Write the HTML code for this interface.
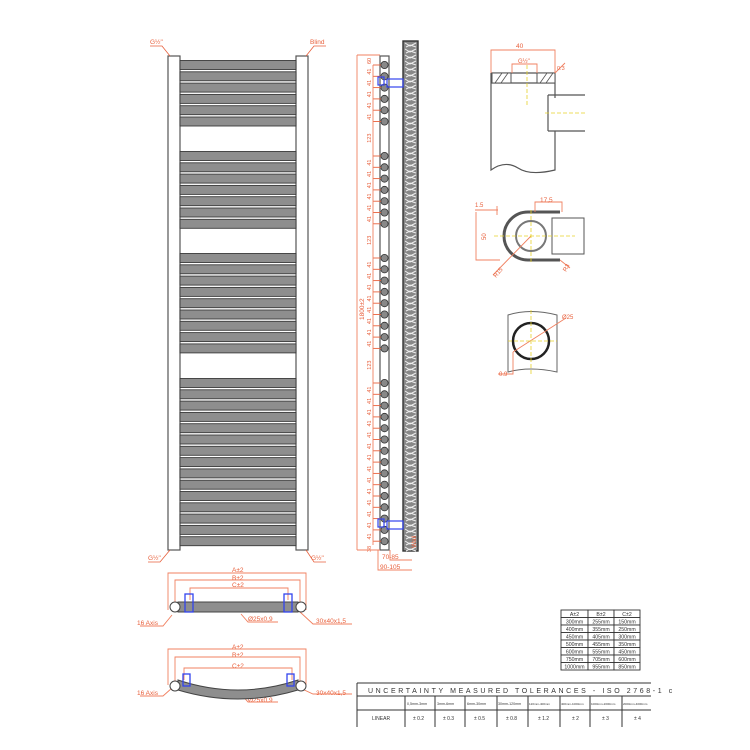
<!DOCTYPE html>
<html><head><meta charset="utf-8"><style>
html,body{margin:0;padding:0;background:#fff;width:750px;height:750px;overflow:hidden}
svg{display:block;font-family:"Liberation Sans",sans-serif}
</style></head><body>
<svg id="s" width="750" height="750" viewBox="0 0 750 750" xmlns="http://www.w3.org/2000/svg">
<rect x="168" y="56" width="12" height="494" fill="#fff" stroke="#555" stroke-width="1.2"/>
<rect x="296" y="56" width="12" height="494" fill="#fff" stroke="#555" stroke-width="1.2"/>
<g id="bars"></g>
<g fill="#e8603c" font-size="6.5" stroke="none">
<text x="150" y="44">G½"</text><text x="310" y="44">Blind</text>
<text x="148" y="560">G½"</text><text x="311" y="560">G½"</text>
</g>
<g stroke="#e8603c" stroke-width="0.8" fill="none">
<path d="M150 46 H162 L170 56"/><path d="M326 46 H314 L306 56"/>
<path d="M148 562 H160 L170 550"/><path d="M326 562 H314 L306 550"/>
</g>
<rect x="380" y="56" width="9" height="494" fill="#fff" stroke="#555" stroke-width="1.2"/>
<rect x="403" y="41" width="15" height="510" fill="#888" stroke="#333" stroke-width="1.4"/>
<g id="wall"></g>
<g id="side"></g>
<g stroke="#f08060" stroke-width="0.9" fill="none">
<path d="M357 55 V550 M357 55 H380 M357 550 H380"/>
<path d="M373 65 V545"/>
<path d="M378 550 V570 H412 M390 550 V560 H412"/>
</g>
<text x="0" y="0" transform="translate(364 320) rotate(-90)" fill="#e8603c" font-size="6.5">1800±2</text>
<text x="382" y="559" fill="#e8603c" font-size="6.5">70-85</text>
<text x="380" y="569" fill="#e8603c" font-size="6.5">90-105</text>
<text transform="translate(416 548) rotate(-90)" fill="#e8603c" font-size="6.5">Wall</text>
<rect x="378" y="77" width="6" height="8" fill="none" stroke="#3344ee" stroke-width="1.2"/>
<rect x="387" y="79" width="16" height="8" fill="none" stroke="#3344ee" stroke-width="1.2"/>
<rect x="378" y="519" width="6" height="8" fill="none" stroke="#3344ee" stroke-width="1.2"/>
<rect x="387" y="521" width="16" height="8" fill="none" stroke="#3344ee" stroke-width="1.2"/>
<g stroke="#555" stroke-width="1.2" fill="none">
<path d="M491 73 V170 Q505 160 518 168 Q530 176 555 170 V131 M555 98 V73 Z"/>
<path d="M491 73 H555 M491 83 H555"/>
<path d="M548 95 H585 M548 131 H585 M548 95 V131"/>
</g>
<rect x="492" y="73" width="19" height="10" fill="#fff" stroke="#555"/>
<rect x="537" y="73" width="18" height="10" fill="#fff" stroke="#555"/>
<g stroke="#555" stroke-width="0.8"><path d="M495 83 L502 73 M501 83 L508 73 M540 83 L547 73 M546 83 L553 73"/></g>
<g stroke="#f08060" stroke-width="0.9" fill="none"><path d="M491 73 V50 H555 V73 M512 73 V64 H537 V73 M555 73 L565 63"/></g>
<text x="516" y="48" fill="#e8603c" font-size="6.5">40</text>
<text x="518" y="63" fill="#e8603c" font-size="6">G½"</text>
<text x="557" y="70" fill="#e8603c" font-size="5.5">0.3</text>
<g stroke="#e6d22a" stroke-width="0.8" stroke-dasharray="4 2" fill="none"><path d="M527 65 V105 M545 113 H585"/></g>
<path d="M560 212 H528 A24 24 0 0 0 528 260 H560" fill="none" stroke="#555" stroke-width="3"/>
<circle cx="531" cy="236" r="15" fill="none" stroke="#777" stroke-width="2"/>
<path d="M552 218 H584 V254 H552 Z" fill="#fff" stroke="#555" stroke-width="1"/>
<g stroke="#f08060" stroke-width="0.9" fill="none">
<path d="M475 210 H498 M476 212 V260 H500 M497 206 V215 M535 212 V202 H562 V212 M531 236 L493 275 M560 260 L570 268"/>
</g>
<text x="475" y="207" fill="#e8603c" font-size="6">1.5</text>
<text x="540" y="202" fill="#e8603c" font-size="6.5">17,5</text>
<text transform="translate(486 240) rotate(-90)" fill="#e8603c" font-size="6">50</text>
<text transform="translate(496 278) rotate(-50)" fill="#e8603c" font-size="6">R15</text>
<text transform="translate(566 272) rotate(-60)" fill="#e8603c" font-size="6">R3</text>
<g stroke="#e6d22a" stroke-width="0.8" stroke-dasharray="4 2" fill="none"><path d="M494 236 H575 M531 210 V262"/></g>
<path d="M508 315 Q530 308 557 315 V372 Q530 366 508 372 Z" fill="#fff" stroke="#666" stroke-width="1"/>
<circle cx="531" cy="341" r="18" fill="none" stroke="#222" stroke-width="2.5"/>
<g stroke="#f08060" stroke-width="0.9" fill="none"><path d="M513 352 L566 318 M513 352 V374 H498"/></g>
<text x="562" y="319" fill="#e8603c" font-size="6">Ø25</text>
<text x="499" y="376" fill="#e8603c" font-size="6">0.9</text>
<g stroke="#e6d22a" stroke-width="0.8" stroke-dasharray="4 2" fill="none"><path d="M508 341 H557 M531 310 V375"/></g>
<g stroke="#f08060" stroke-width="0.9" fill="none">
<path d="M168 610 V573 H306 V610 M175 610 V580 H300 V610 M190 600 V588 H288 V600"/>
<path d="M172 615 L163 626 H140 M300 612 L313 624 H352 M241 614 L248 622 H278"/>
</g>
<rect x="178" y="602" width="120" height="10" fill="#8e8e8e" stroke="#444"/>
<rect x="170" y="602" width="10" height="10" rx="5" fill="#fff" stroke="#444"/>
<rect x="296" y="602" width="10" height="10" rx="5" fill="#fff" stroke="#444"/>
<rect x="185" y="594" width="8" height="18" fill="none" stroke="#3344ee" stroke-width="1.3"/>
<rect x="284" y="594" width="8" height="18" fill="none" stroke="#3344ee" stroke-width="1.3"/>
<g fill="#e8603c" font-size="6.5">
<text x="232" y="572">A±2</text><text x="232" y="580">B±2</text><text x="232" y="587">C±2</text>
<text x="137" y="625">16 Axis</text><text x="248" y="621">Ø25x0,9</text><text x="316" y="623">30x40x1,5</text>
<text x="232" y="649">A±2</text><text x="232" y="657">B±2</text><text x="232" y="668">C±2</text>
<text x="137" y="695">16 Axis</text><text x="248" y="702">Ø25x0,9</text><text x="316" y="695">30x40x1,5</text>
</g>
<g stroke="#f08060" stroke-width="0.9" fill="none">
<path d="M168 685 V649 H306 V685 M175 685 V657 H300 V685 M184 680 V668 H292 V680"/>
<path d="M172 688 L163 696 H140 M300 688 L313 694 H352 M241 694 L248 702 H278"/>
</g>
<path d="M178 680 Q238 700 298 680 L298 690 Q238 708 178 690 Z" fill="#8e8e8e" stroke="#444"/>
<rect x="170" y="681" width="10" height="10" rx="5" fill="#fff" stroke="#444"/>
<rect x="296" y="681" width="10" height="10" rx="5" fill="#fff" stroke="#444"/>
<rect x="183" y="674" width="7" height="12" fill="none" stroke="#3344ee" stroke-width="1.3"/>
<rect x="287" y="674" width="7" height="12" fill="none" stroke="#3344ee" stroke-width="1.3"/>
<g id="tbl"></g>
<g stroke="#333" stroke-width="1" fill="none">
<path d="M357 683 H651 M357 696 H651 M357 710 H651 M357 683 V727"/>
<path d="M405 696 V727 M435 696 V727 M465 696 V727 M497 696 V727 M528 696 V727 M560 696 V727 M590 696 V727 M622 696 V727"/>
</g>
<text x="368" y="693" font-size="7" fill="#333" letter-spacing="2.6">UNCERTAINTY MEASURED TOLERANCES - ISO 2768-1 c</text>
<g font-size="3.6" fill="#333">
<text x="407" y="705">0,5mm-3mm</text><text x="437" y="705">3mm-6mm</text><text x="467" y="705">6mm-30mm</text>
<text x="498" y="705">30mm-120mm</text><text x="529" y="705" font-size="3">120mm-400mm</text><text x="561" y="705" font-size="3">400mm-1000mm</text>
<text x="591" y="705" font-size="3">1000mm-2000mm</text><text x="623" y="705" font-size="3">2000mm-4000mm</text>
</g>
<g font-size="5" fill="#333">
<text x="372" y="720">LINEAR</text><text x="413" y="720">± 0.2</text><text x="443" y="720">± 0.3</text><text x="474" y="720">± 0.5</text>
<text x="506" y="720">± 0.8</text><text x="538" y="720">± 1.2</text><text x="572" y="720">± 2</text><text x="602" y="720">± 3</text><text x="634" y="720">± 4</text>
</g>
</svg>
<script>
var NS="http://www.w3.org/2000/svg";
function el(p,t,a,txt){var e=document.createElementNS(NS,t);for(var k in a)e.setAttribute(k,a[k]);if(txt)e.textContent=txt;p.appendChild(e);return e;}
var ys=[];function grp(s,n){for(var i=0;i<n;i++)ys.push(s+i*11.3);}
grp(65,6);grp(156,7);grp(258,9);grp(383,15);
var b=document.getElementById('bars'),sd=document.getElementById('side');
ys.forEach(function(y,i){
 el(b,'rect',{x:180,y:y-4.5,width:116,height:9,fill:'#8e8e8e',stroke:'#3a3a3a','stroke-width':0.9});
 el(sd,'circle',{cx:384.5,cy:y,r:3.6,fill:'#888',stroke:'#333','stroke-width':0.8});
 el(sd,'path',{d:'M373 '+y+' H381',stroke:'#e8603c','stroke-width':0.9});
 if(i>0){var py=ys[i-1];var lab=(y-py>20)?'123':'41';
  el(sd,'text',{transform:'translate(371 '+((y+py)/2+4)+') rotate(-90)',fill:'#e8603c','font-size':5.5},lab);}
});
el(sd,'text',{transform:'translate(371 64) rotate(-90)',fill:'#e8603c','font-size':5.5},'60');
el(sd,'text',{transform:'translate(371 552) rotate(-90)',fill:'#e8603c','font-size':5.5},'38');
var w=document.getElementById('wall');
for(var y=43;y<548;y+=6){el(w,'path',{d:'M405 '+y+' l5 3 l6 -3 M406 '+(y+4)+' l4 -2 l6 2',stroke:'#eee','stroke-width':1,fill:'none'});}
var t=document.getElementById('tbl');
var rows=[['A±2','B±2','C±2'],['300mm','255mm','150mm'],['400mm','355mm','250mm'],['450mm','405mm','300mm'],['500mm','455mm','350mm'],['600mm','555mm','450mm'],['750mm','705mm','600mm'],['1000mm','955mm','850mm']];
var cx=[561,588,614,640];
rows.forEach(function(r,i){var y=610+i*7.5;
 for(var j=0;j<3;j++){el(t,'rect',{x:cx[j],y:y,width:cx[j+1]-cx[j],height:7.5,fill:'#fff',stroke:'#333','stroke-width':0.9});
 el(t,'text',{x:(cx[j]+cx[j+1])/2,y:y+6,'text-anchor':'middle','font-size':5.2,fill:'#333'},r[j]);}
});
</script>
</body></html>
